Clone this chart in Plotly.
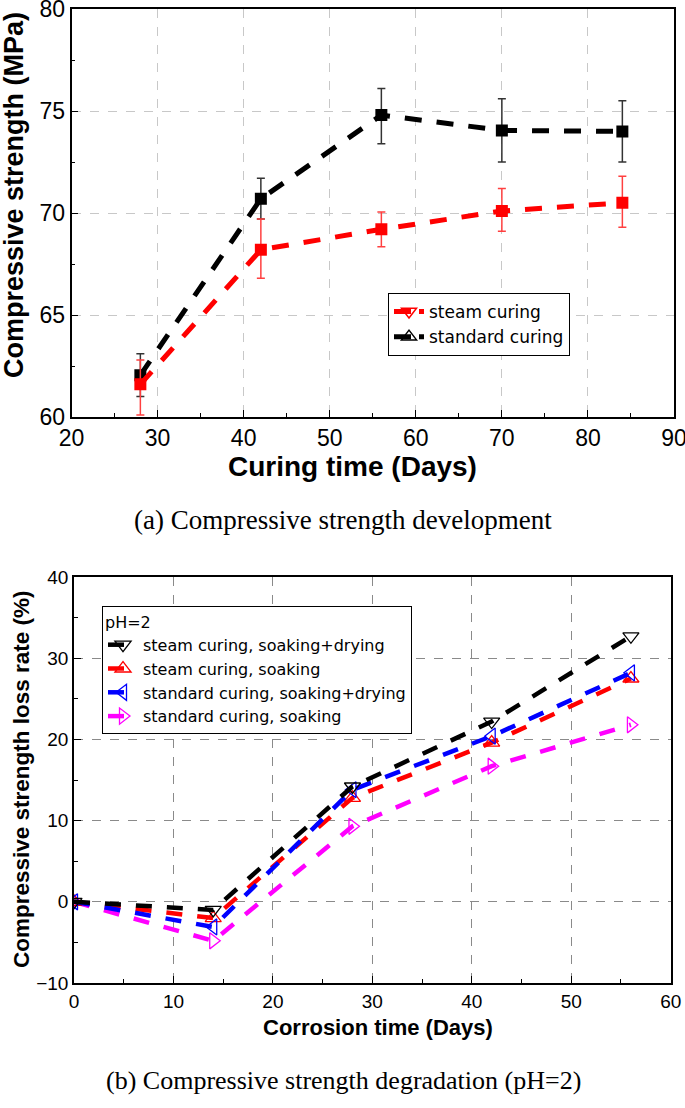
import plotly.graph_objects as go

# ---------- (a) Compressive strength development ----------
curing_days = [28, 42, 56, 70, 84]
steam_strength = [61.6, 68.2, 69.2, 70.1, 70.5]
steam_err_plus = [1.2, 1.5, 0.85, 1.1, 1.3]
steam_err_minus = [1.5, 1.4, 0.85, 1.0, 1.2]
standard_strength = [62.05, 70.7, 74.8, 74.05, 74.0]
standard_err_plus = [1.05, 1.0, 1.3, 1.55, 1.5]
standard_err_minus = [1.05, 1.0, 1.4, 1.55, 1.5]

# ---------- (b) Compressive strength degradation (pH=2) ----------
corrosion_days = [0, 14, 28, 42, 56]
steam_soak_dry = [0, -1.0, 14.2, 22.2, 32.7]
steam_soak = [0, -2.0, 12.8, 19.6, 27.5]
standard_soak_dry = [0, -3.1, 13.8, 20.4, 28.2]
standard_soak = [0, -4.8, 9.3, 16.7, 21.8]

W, H = 685, 1108
FONT = "Liberation Sans, Arial, sans-serif"
LEGFONT = "DejaVu Sans, Liberation Sans, sans-serif"
SERIF = "Liberation Serif, Times New Roman, serif"

def px_x(p):
    return p / W

def px_y(p):
    return 1 - p / H

fig = go.Figure()

# top chart data (standard drawn first so steam sits on top)
fig.add_trace(go.Scatter(
    x=curing_days, y=standard_strength, mode="lines+markers",
    line=dict(color="black", width=5, dash="17px,15px"),
    marker=dict(symbol="square", size=12, color="black"),
    error_y=dict(type="data", symmetric=False, array=standard_err_plus,
                 arrayminus=standard_err_minus, color="#333333", thickness=1.5, width=4),
    showlegend=False, xaxis="x", yaxis="y"))
fig.add_trace(go.Scatter(
    x=curing_days, y=steam_strength, mode="lines+markers",
    line=dict(color="red", width=5, dash="17px,15px"),
    marker=dict(symbol="square", size=12, color="red"),
    error_y=dict(type="data", symmetric=False, array=steam_err_plus,
                 arrayminus=steam_err_minus, color="#ff4040", thickness=1.5, width=4),
    showlegend=False, xaxis="x", yaxis="y"))
# legend entries for top chart
fig.add_trace(go.Scatter(
    x=[None], y=[None], mode="lines+markers", name="steam curing",
    line=dict(color="red", width=5, dash="17px,8px"),
    marker=dict(symbol="triangle-down-open", size=13, color="red", line=dict(width=1.5)),
    legend="legend", legendrank=1, xaxis="x", yaxis="y"))
fig.add_trace(go.Scatter(
    x=[None], y=[None], mode="lines+markers", name="standard curing",
    line=dict(color="black", width=5, dash="17px,8px"),
    marker=dict(symbol="triangle-up-open", size=13, color="black", line=dict(width=1.5)),
    legend="legend", legendrank=2, xaxis="x", yaxis="y"))

# bottom chart
bottom_series = [
    ("standard curing, soaking", standard_soak, "#ff00ff", "triangle-right-open", 4),
    ("steam curing, soaking", steam_soak, "#ff0000", "triangle-up-open", 2),
    ("standard curing, soaking+drying", standard_soak_dry, "#0000ff", "triangle-left-open", 3),
    ("steam curing, soaking+drying", steam_soak_dry, "#000000", "triangle-down-open", 1),
]
for name, vals, col, sym, rank in bottom_series:
    fig.add_trace(go.Scatter(
        x=corrosion_days, y=vals, mode="lines+markers", name=name,
        line=dict(color=col, width=4.5, dash="16px,15px"),
        marker=dict(symbol=sym, size=14, color=col, line=dict(width=1.3)),
        legend="legend2", legendrank=rank, xaxis="x2", yaxis="y2"))

axis_common = dict(
    showline=True, linecolor="black", linewidth=1.5, mirror=True,
    ticks="inside", ticklen=7, tickwidth=1.2, tickcolor="black",
    zeroline=False, showgrid=True, griddash="dash", gridwidth=1,
    automargin=False, ticklabeloverflow="allow",
)

fig.update_layout(
    width=W, height=H,
    margin=dict(l=0, r=0, t=0, b=0, autoexpand=False),
    paper_bgcolor="white", plot_bgcolor="white",
    font=dict(family=FONT, color="black"),
    xaxis=dict(axis_common, domain=[px_x(71.5), px_x(674)], anchor="y",
               range=[20, 90], dtick=10, tick0=20, gridcolor="#c8c8c8",
               tickfont=dict(size=23, family=FONT, color="black"),
               minor=dict(ticks="inside", ticklen=4, dtick=5, tick0=20,
                          tickcolor="black", showgrid=False)),
    yaxis=dict(axis_common, domain=[px_y(417), px_y(9)], anchor="x",
               range=[60, 80], dtick=5, tick0=60, gridcolor="#c8c8c8",
               tickfont=dict(size=23, family=FONT, color="black"),
               minor=dict(ticks="inside", ticklen=4, dtick=2.5, tick0=60,
                          tickcolor="black", showgrid=False)),
    xaxis2=dict(axis_common, domain=[px_x(74), px_x(670.7)], anchor="y2",
                range=[0, 60], dtick=10, tick0=0, gridcolor="#8a8a8a",
                tickfont=dict(size=19, family=FONT, color="black"),
                minor=dict(ticks="inside", ticklen=4, dtick=5, tick0=0,
                           tickcolor="black", showgrid=False)),
    yaxis2=dict(axis_common, domain=[px_y(983), px_y(577)], anchor="x2",
                range=[-10, 40], dtick=10, tick0=-10, gridcolor="#8a8a8a",
                tickfont=dict(size=19, family=FONT, color="black"),
                minor=dict(ticks="inside", ticklen=4, dtick=5, tick0=-10,
                           tickcolor="black", showgrid=False)),
    legend=dict(x=px_x(388), y=px_y(293), xanchor="left", yanchor="top",
                bgcolor="white", bordercolor="black", borderwidth=1,
                font=dict(size=17, family=LEGFONT, color="black"),
                itemwidth=30, tracegroupgap=0),
    legend2=dict(x=px_x(102), y=px_y(606), xanchor="left", yanchor="top",
                 bgcolor="white", bordercolor="black", borderwidth=1,
                 title=dict(text="pH=2", font=dict(size=16, family=LEGFONT, color="black")),
                 font=dict(size=16, family=LEGFONT, color="black"),
                 itemwidth=30, tracegroupgap=0),
)

annotations = [
    dict(text="<b>Compressive strength (MPa)</b>", x=px_x(14), y=px_y(195),
         textangle=-90, font=dict(size=27, family=FONT)),
    dict(text="<b>Curing time (Days)</b>", x=px_x(353), y=px_y(466),
         font=dict(size=28, family=FONT)),
    dict(text="(a) Compressive strength development", x=px_x(343), y=px_y(520),
         font=dict(size=27, family=SERIF)),
    dict(text="<b>Compressive strength loss rate (%)</b>", x=px_x(21), y=px_y(779),
         textangle=-90, font=dict(size=22.5, family=FONT)),
    dict(text="<b>Corrosion time (Days)</b>", x=px_x(378), y=px_y(1027),
         font=dict(size=22, family=FONT)),
    dict(text="(b) Compressive strength degradation (pH=2)", x=px_x(343), y=px_y(1080),
         font=dict(size=26, family=SERIF)),
]
for a in annotations:
    a.update(xref="paper", yref="paper", xanchor="center", yanchor="middle",
             showarrow=False)
    a["font"]["color"] = "black"
fig.update_layout(annotations=annotations)

fig.write_html("out.html", config={"displayModeBar": False},
               post_script="document.body.style.margin='0px';document.body.style.overflow='hidden';")
